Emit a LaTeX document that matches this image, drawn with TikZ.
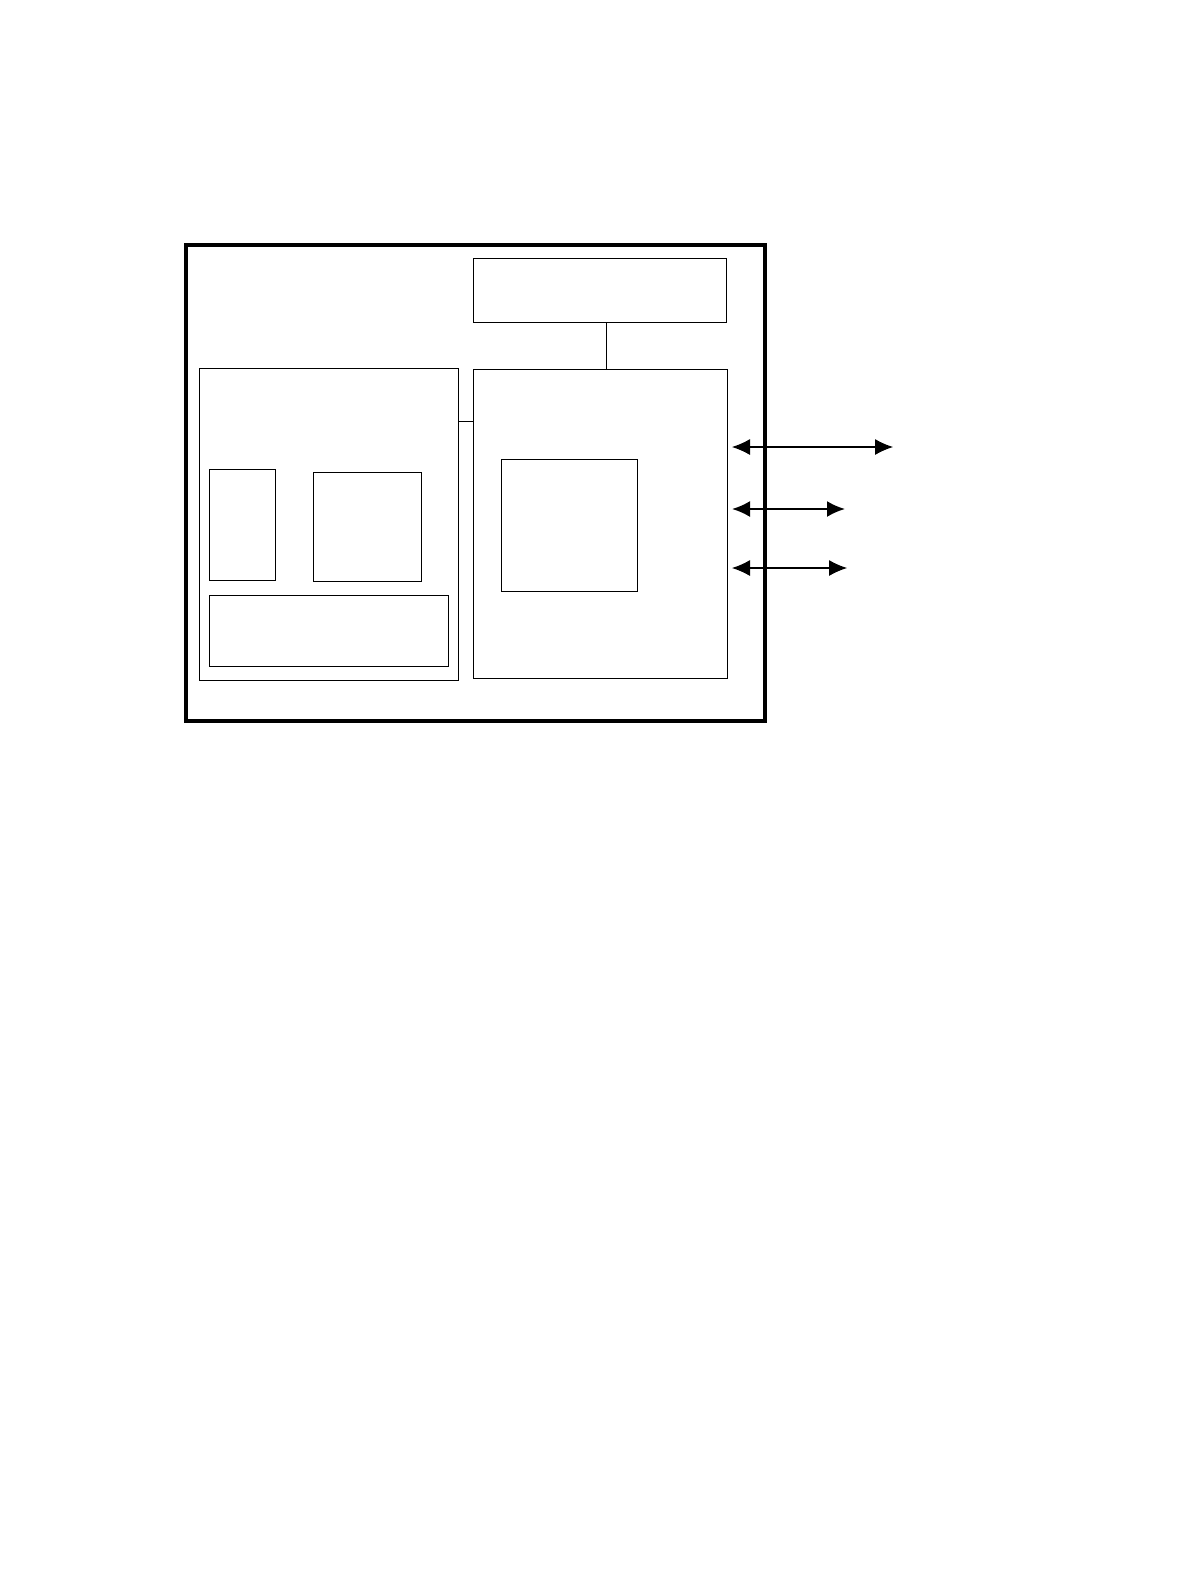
\documentclass[tikz,border=0pt]{standalone}
\usepackage{tikz}
\usetikzlibrary{arrows.meta}
\tikzset{
    blk/.style={draw=black, line width=0.5pt, inner sep=0pt, outer sep=0pt, anchor=north west},
    frame/.style={blk, line width=2.2pt},
    link/.style={draw=black, line width=0.5pt},
    port/.style={draw=black, line width=0.6pt, {Latex[length=0.36cm,width=0.32cm]}-{Latex[length=0.36cm,width=0.32cm]}}
}
\begin{document}
\begin{tikzpicture}
                \useasboundingbox (0,0) rectangle (23.76,-31.68);
                \node[frame, minimum width=11.58cm, minimum height=9.52cm] (board) at (3.72,-4.90) {};
                \node[blk, minimum width=5.06cm, minimum height=1.28cm] (cfg) at (9.46,-5.16) {};
                \node[blk, minimum width=5.18cm, minimum height=6.24cm] (host) at (3.98,-7.36) {};
                \node[blk, minimum width=5.08cm, minimum height=6.18cm] (core) at (9.46,-7.38) {};
                \node[blk, minimum width=2.72cm, minimum height=2.64cm] (unit) at (10.02,-9.18) {};
                \node[blk, minimum width=1.32cm, minimum height=2.22cm] (mem) at (4.18,-9.38) {};
                \node[blk, minimum width=2.16cm, minimum height=2.18cm] (proc) at (6.26,-9.44) {};
                \node[blk, minimum width=4.78cm, minimum height=1.42cm] (bus) at (4.18,-11.90) {};
                % links inside the board
                \draw[link] ([xshift=0.13cm]cfg.south) -- ([xshift=0.13cm]cfg.south |- core.north);
                \draw[link] ([yshift=2.06cm]host.east) -- ([yshift=2.06cm]host.east -| core.west);
                % ports on the right
                \coordinate (pa) at ([xshift=0.10cm, yshift=1.53cm]core.east);
                \coordinate (pb) at ([xshift=0.10cm, yshift=0.29cm]core.east);
                \coordinate (pc) at ([xshift=0.10cm, yshift=-0.89cm]core.east);
                \coordinate (qa) at (17.86,0 |- pa);
                \coordinate (qb) at (16.90,0 |- pb);
                \coordinate (qc) at (16.94,0 |- pc);
                \draw[port] (pa) -- (qa);
                \draw[port, line width=1.2pt] (pb) -- (qb);
                \draw[port] (pc) -- (qc);
            \end{tikzpicture}
\end{document}
